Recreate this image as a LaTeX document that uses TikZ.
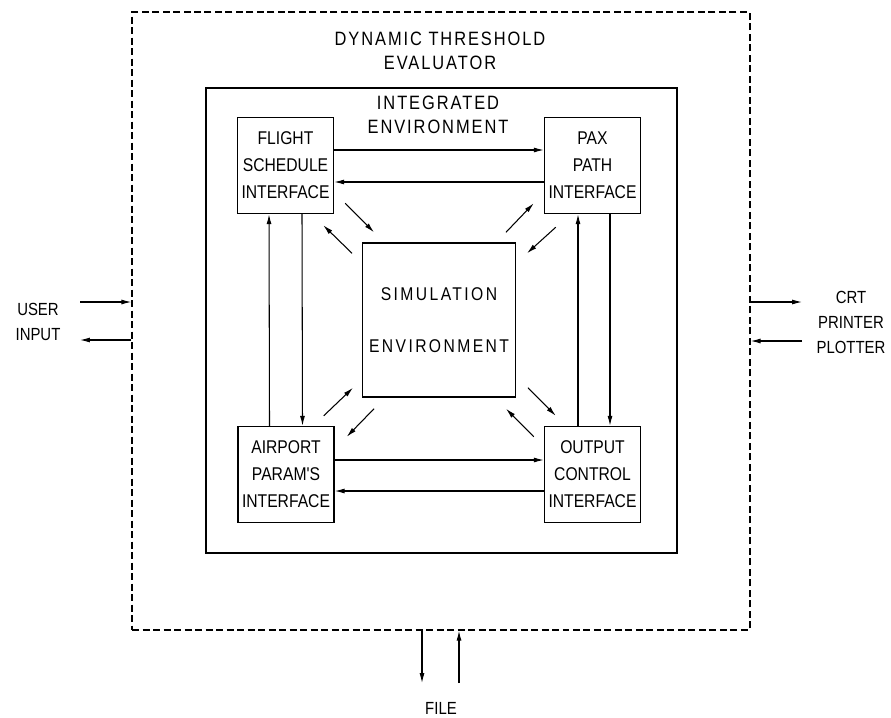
\documentclass[tikz,border=0pt]{standalone}
\usepackage{fontspec}
\setmainfont{Liberation Sans}
\newfontfamily\plotfont[FakeStretch=0.85]{Liberation Sans}
\newfontfamily\titlefont[FakeStretch=0.85,LetterSpace=10]{Liberation Sans}
\newfontfamily\simfont[FakeStretch=0.85,LetterSpace=13]{Liberation Sans}
\usetikzlibrary{arrows.meta, calc}
\tikzset{
  ifbox/.style={rectangle, draw, line width=0.8pt, minimum width=1.92cm,
                minimum height=1.92cm, align=center, inner sep=0pt,
                font=\plotfont\fontsize{10.5}{15.3}\selectfont},
  simbox/.style={rectangle, draw, line width=0.8pt, minimum width=3.05cm,
                 minimum height=3.08cm, align=center,
                 font=\simfont\fontsize{10.5}{29.5}\selectfont},
  envbox/.style={rectangle, draw, line width=1.1pt, minimum width=9.42cm,
                 minimum height=9.3cm},
  outerbox/.style={rectangle, draw, line width=0.8pt,
                   dash pattern=on 0.14cm off 0.07cm,
                   minimum width=12.36cm, minimum height=12.36cm},
  title/.style={align=center, font=\titlefont\fontsize{11}{13.6}\selectfont},
  extlabel/.style={align=center, font=\plotfont\fontsize{10}{14.2}\selectfont},
  arr/.style={-{Latex[length=2mm,width=1mm]}, line width=0.6pt}
}
\begin{document}
\begin{tikzpicture}[x=0.02cm, y=-0.02cm]
  \useasboundingbox (0,0) rectangle (891,717);

  % Frames
  \node[outerbox] (dte) at (441,321) {};
  \node[envbox]   (ie)  at (441.5,320.5) {};
  \node[title] (dtetitle) at (440,51) {DYNAMIC THRESHOLD\\EVALUATOR};
  \node[title] (ietitle)  at (438,115) {INTEGRATED\\ENVIRONMENT};

  % Interfaces
  \node[ifbox] (fsi) at (285.5,165.5) {FLIGHT\\SCHEDULE\\INTERFACE};
  \node[ifbox] (ppi) at (592.5,165.5) {PAX\\PATH\\INTERFACE};
  \node[ifbox] (api) at (286,474.5)   {AIRPORT\\PARAM'S\\INTERFACE};
  \node[ifbox] (oci) at (592.5,474.5) {OUTPUT\\CONTROL\\INTERFACE};
  \node[simbox] (sim) at (439,320)    {SIMULATION\\ENVIRONMENT};

  % Interface to interface
  \draw[arr] ([yshift=0.31cm]fsi.east) -- ([yshift=0.31cm]ppi.west);
  \draw[arr] ([yshift=-0.33cm]ppi.west) -- ([yshift=-0.33cm]fsi.east);
  \draw[arr] ([yshift=0.29cm]api.east) -- ([yshift=0.29cm]oci.west);
  \draw[arr] ([yshift=-0.33cm]oci.west) -- ([yshift=-0.33cm]api.east);
  \draw[arr] ([xshift=-0.33cm]api.north) -- ([xshift=-0.33cm]fsi.south);
  \draw[arr] ([xshift=0.33cm]fsi.south) -- ([xshift=0.33cm]api.north);
  \draw[arr] ([xshift=-0.29cm]oci.north) -- ([xshift=-0.29cm]ppi.south);
  \draw[arr] ([xshift=0.35cm]ppi.south) -- ([xshift=0.35cm]oci.north);

  % Interfaces to simulation
  \draw[arr] ([shift={(11,-11)}]fsi.south east) -- ([shift={(12,-10)}]sim.north west);
  \draw[arr] ([shift={(-10,11)}]sim.north west) -- ([shift={(-11,11)}]fsi.south east);
  \draw[arr] ([shift={(-10,-10)}]sim.north east) -- ([shift={(-10,-11)}]ppi.south west);
  \draw[arr] ([shift={(12,13)}]ppi.south west) -- ([shift={(11,11)}]sim.north east);
  \draw[arr] ([shift={(-11,-10)}]api.north east) -- ([shift={(-9,-10)}]sim.south west);
  \draw[arr] ([shift={(12,11)}]sim.south west) -- ([shift={(12,11)}]api.north east);
  \draw[arr] ([shift={(12,-10)}]sim.south east) -- ([shift={(12,-10)}]oci.north west);
  \draw[arr] ([shift={(-10,11)}]oci.north west) -- ([shift={(-10,11)}]sim.south east);

  % Outside world
  \node[extlabel] (user) at (38,322)  {USER\\INPUT};
  \node[extlabel] (crt)  at (851,322) {CRT\\PRINTER\\PLOTTER};
  \node[extlabel] (file) at (441,708) {FILE};
  \coordinate (uin)  at (80,302);
  \coordinate (uout) at (80,340);
  \coordinate (cout) at (802,302);
  \coordinate (cin)  at (802,341);
  \coordinate (fout) at (422,683);
  \coordinate (fin)  at (459,683);
  \draw[arr] (uin) -- (uin -| dte.west);
  \draw[arr] (uout -| dte.west) -- (uout);
  \draw[arr] (cout -| dte.east) -- (cout);
  \draw[arr] (cin) -- (cin -| dte.east);
  \draw[arr] (fout |- dte.south) -- (fout);
  \draw[arr] (fin) -- (fin |- dte.south);
\end{tikzpicture}
\end{document}
